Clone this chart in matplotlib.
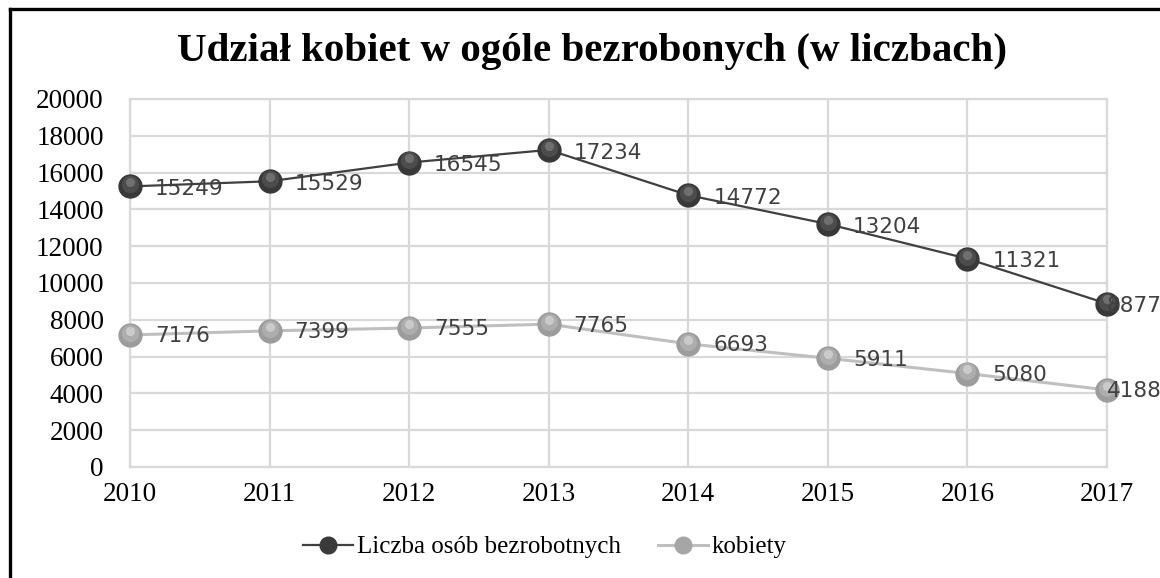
import matplotlib
matplotlib.use("Agg")
import matplotlib.pyplot as plt
from matplotlib.transforms import ScaledTranslation
from matplotlib.lines import Line2D

years = [2010, 2011, 2012, 2013, 2014, 2015, 2016, 2017]
total = [15249, 15529, 16545, 17234, 14772, 13204, 11321, 8877]
women = [7176, 7399, 7555, 7765, 6693, 5911, 5080, 4188]
yticks = [0, 2000, 4000, 6000, 8000, 10000, 12000, 14000, 16000, 18000, 20000]
title = "Udział kobiet w ogóle bezrobonych (w liczbach)"
series_names = ["Liczba osób bezrobotnych", "kobiety"]

SERIF = ["Liberation Serif", "DejaVu Serif"]
SANS = ["DejaVu Sans"]

fig = plt.figure(figsize=(11.6, 5.78), dpi=100)
fig.patch.set_facecolor("white")
ax = fig.add_axes([130/1160, 1-467/578, (1107-130)/1160, (467-99)/578])

ax.set_xlim(years[0], years[-1])
ax.set_ylim(yticks[0], yticks[-1])
ax.set_xticks(years)
ax.set_yticks(yticks)
ax.set_xticklabels([str(y) for y in years], family=SERIF, fontsize=19.5)
ax.set_yticklabels([str(v) for v in yticks], family=SERIF, fontsize=19.5)
ax.tick_params(axis="both", length=0)
ax.tick_params(axis="y", pad=19)
ax.tick_params(axis="x", pad=11)
ax.grid(True, color="#d9d9d9", linewidth=1.6)
ax.set_axisbelow(True)
for s in ax.spines.values():
    s.set_color("#d9d9d9")
    s.set_linewidth(1.6)

def sphere(ax, x, y, base, mid, hi, z, ms=16.5):
    ax.plot(x, y, linestyle="none", marker="o", markersize=ms,
            markerfacecolor=base, markeredgecolor=base, zorder=z, clip_on=False)
    t1 = ax.transData + ScaledTranslation(0, 1.5/72, fig.dpi_scale_trans)
    ax.plot(x, y, linestyle="none", marker="o", markersize=ms*0.75,
            markerfacecolor=mid, markeredgecolor="none", alpha=0.55,
            transform=t1, zorder=z+0.1, clip_on=False)
    t2 = ax.transData + ScaledTranslation(0, 3/72, fig.dpi_scale_trans)
    ax.plot(x, y, linestyle="none", marker="o", markersize=ms*0.4,
            markerfacecolor=hi, markeredgecolor="none", alpha=0.45,
            transform=t2, zorder=z+0.2, clip_on=False)

ax.plot(years, total, color="#404040", linewidth=1.6, zorder=3)
sphere(ax, years, total, "#383838", "#5e5e5e", "#9a9a9a", 4)
ax.plot(years, women, color="#bfbfbf", linewidth=2.2, zorder=3)
sphere(ax, years, women, "#9c9c9c", "#bcbcbc", "#eeeeee", 4)

n = len(years)
for series, dy in ((total, -2), (women, -1)):
    for i, (x, v) in enumerate(zip(years, series)):
        dx = 18 if i < n - 1 else 0
        ax.annotate(str(v), (x, v), xytext=(dx, dy), textcoords="offset points",
                    ha="left", va="center", fontsize=15.5, family=SANS,
                    color="#404040", zorder=6, annotation_clip=False)

fig.text(592/1160, 1-52/578, title, ha="center", va="center",
         family=SERIF, fontsize=29.5, fontweight="bold", color="#000000")

h1 = Line2D([], [], color="#404040", linewidth=1.6, marker="o", markersize=12,
            markerfacecolor="#3a3a3a", markeredgecolor="#3a3a3a")
h2 = Line2D([], [], color="#bfbfbf", linewidth=2.2, marker="o", markersize=12,
            markerfacecolor="#a6a6a6", markeredgecolor="#a6a6a6")
leg = fig.legend([h1, h2], series_names, loc="center",
                 bbox_to_anchor=(545/1160, 1-547/578), ncol=2, frameon=False,
                 prop={"family": SERIF, "size": 18}, handlelength=2.0,
                 handletextpad=0.15, columnspacing=1.5)

# outer frame (visible on left and top)
fig.add_artist(Line2D([10/1160, 10/1160], [-0.1, 1-9/578], transform=fig.transFigure,
                      color="black", linewidth=2.4))
fig.add_artist(Line2D([10/1160, 1.1], [1-9/578, 1-9/578], transform=fig.transFigure,
                      color="black", linewidth=2.4))

fig.savefig("out.png", dpi=100, facecolor="white")
